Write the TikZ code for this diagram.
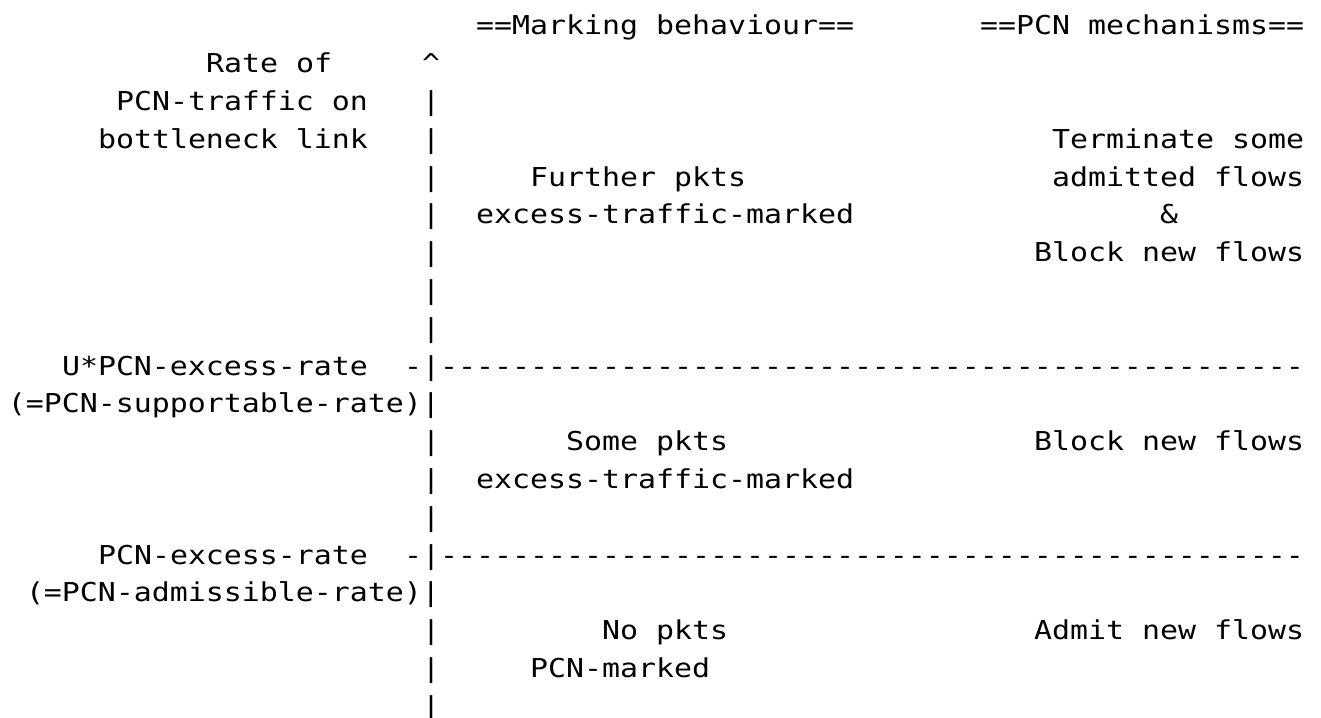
\documentclass[tikz,border=0pt]{standalone}
\usepackage{fontspec}
\newfontfamily\asc[Ligatures=TeXOff,FakeStretch=1.15]{DejaVu Sans Mono}
\newcommand\putrow[4]{\node[txt] (#1) at ({8+#3*18},{717-35-(#2-1)*37.8}) {#4};}
\begin{document}
\begin{tikzpicture}[x=1pt,y=1pt,
  txt/.style={anchor=base west,inner sep=0pt,outer sep=0pt,text=black,
    font=\asc\fontsize{26}{26}\selectfont}]
\useasboundingbox (0,0) rectangle (1321,717);
\fill[white] (0,0) rectangle (1321,717);
% line 1
\putrow{hmark}{1}{26}{==Marking behaviour==}
\putrow{hmech}{1}{54}{==PCN mechanisms==}
% line 2
\putrow{ylab1}{2}{11}{Rate of}
\putrow{arrowtip}{2}{23}{\textasciicircum}
% line 3
\putrow{ylab2}{3}{6}{PCN-traffic on}
\putrow{ax3}{3}{23}{|}
% line 4
\putrow{ylab3}{4}{5}{bottleneck link}
\putrow{ax4}{4}{23}{|}
\putrow{m1a}{4}{58}{Terminate some}
% line 5
\putrow{ax5}{5}{23}{|}
\putrow{b1a}{5}{29}{Further pkts}
\putrow{m1b}{5}{58}{admitted flows}
% line 6
\putrow{ax6}{6}{23}{|}
\putrow{b1b}{6}{26}{excess-traffic-marked}
\putrow{m1c}{6}{64}{\&}
% line 7
\putrow{ax7}{7}{23}{|}
\putrow{m1d}{7}{57}{Block new flows}
% line 8-9
\putrow{ax8}{8}{23}{|}
\putrow{ax9}{9}{23}{|}
% line 10
\putrow{thr1a}{10}{3}{U*PCN-excess-rate}
\putrow{line1}{10}{22}{-|------------------------------------------------}
% line 11
\putrow{thr1b}{11}{0}{(=PCN-supportable-rate)|}
% line 12
\putrow{ax12}{12}{23}{|}
\putrow{b2a}{12}{31}{Some pkts}
\putrow{m2}{12}{57}{Block new flows}
% line 13
\putrow{ax13}{13}{23}{|}
\putrow{b2b}{13}{26}{excess-traffic-marked}
% line 14
\putrow{ax14}{14}{23}{|}
% line 15
\putrow{thr2a}{15}{5}{PCN-excess-rate}
\putrow{line2}{15}{22}{-|------------------------------------------------}
% line 16
\putrow{thr2b}{16}{1}{(=PCN-admissible-rate)|}
% line 17
\putrow{ax17}{17}{23}{|}
\putrow{b3a}{17}{33}{No pkts}
\putrow{m3}{17}{57}{Admit new flows}
% line 18
\putrow{ax18}{18}{23}{|}
\putrow{b3b}{18}{29}{PCN-marked}
% line 19
\putrow{ax19}{19}{23}{|}
\end{tikzpicture}
\end{document}
